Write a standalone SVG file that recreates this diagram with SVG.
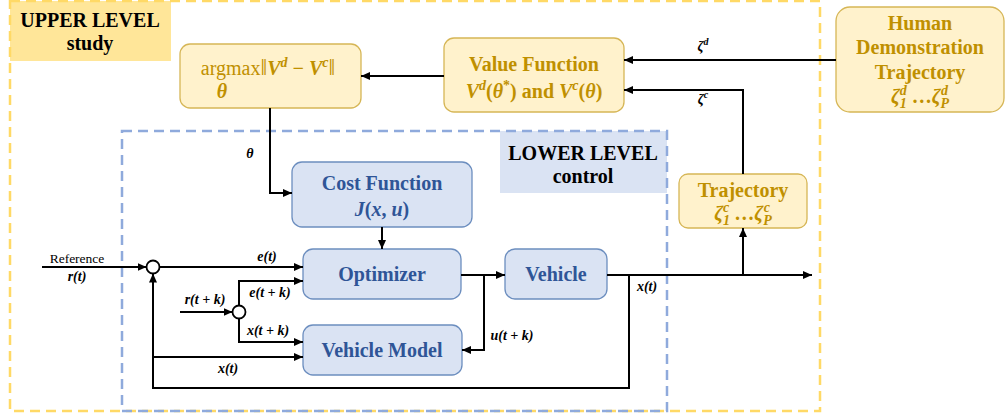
<svg xmlns="http://www.w3.org/2000/svg" width="1005" height="414" viewBox="0 0 1005 414">
<style>
text{font-family:"Liberation Serif","Tinos","DejaVu Serif","Times New Roman",serif}
.yb{fill:#FFF2CC;stroke:#D6B656;stroke-width:1.3}
.bb{fill:#DAE3F3;stroke:#6C8EBF;stroke-width:1.3}
.yt{font-weight:bold;fill:#BF9000;font-size:20px;text-anchor:middle}
.bt{font-weight:bold;fill:#2F5597;font-size:20px;text-anchor:middle}
.m{font-style:italic}
.lab{font-weight:bold;font-style:italic;font-size:14px;fill:#000;text-anchor:middle}
.hdr{font-weight:bold;font-size:20px;fill:#000;text-anchor:middle}
.c{fill:none;stroke:#000;stroke-width:2}
</style>
<defs>
<marker id="ah" markerUnits="userSpaceOnUse" markerWidth="9" markerHeight="8" refX="9" refY="4" orient="auto">
<path d="M0,0 L9,4 L0,8 z" fill="#000"/>
</marker>
</defs>
<g id="upper-label">
<rect x="10" y="1" width="161" height="60" fill="#FFE699"/>
<text class="hdr" x="90" y="27">UPPER LEVEL</text>
<text class="hdr" x="90" y="50">study</text>
</g>
<g id="lower-label">
<rect x="500" y="131" width="167" height="62" fill="#DAE3F3"/>
<text class="hdr" x="583" y="160">LOWER LEVEL</text>
<text class="hdr" x="583" y="183">control</text>
</g>
<g id="frames" fill="none" stroke-width="2.5" stroke-dasharray="10,6">
<rect x="10" y="1" width="810" height="410" stroke="#FFD966"/>
<rect x="122" y="131" width="545" height="280" stroke="#8FAADC"/>
</g>
<g id="argmax">
<rect class="yb" x="180" y="44" width="181" height="64" rx="10"/>
<text class="yt" x="268" y="75" font-size="21.5"><tspan font-weight="normal">argmax</tspan><tspan font-weight="normal" font-size="24">‖</tspan><tspan class="m">V</tspan><tspan class="m" font-size="14" dy="-8">d</tspan><tspan dy="8"> − </tspan><tspan class="m">V</tspan><tspan class="m" font-size="14" dy="-8">c</tspan><tspan dy="8" font-weight="normal" font-size="24">‖</tspan></text>
<text class="yt m" x="222" y="98" font-size="14">θ</text>
</g>
<g id="value-function">
<rect class="yb" x="444" y="38" width="180" height="74" rx="10"/>
<text class="yt" x="534" y="71">Value Function</text>
<text class="yt" x="534" y="98" font-size="21"><tspan class="m">V</tspan><tspan class="m" font-size="14" dy="-8">d</tspan><tspan dy="8">(</tspan><tspan class="m">θ</tspan><tspan font-size="14" dy="-8">*</tspan><tspan dy="8">) and </tspan><tspan class="m">V</tspan><tspan class="m" font-size="14" dy="-8">c</tspan><tspan dy="8">(</tspan><tspan class="m">θ</tspan><tspan>)</tspan></text>
</g>
<g id="human-demo">
<rect class="yb" x="836" y="7" width="168" height="105" rx="14"/>
<text class="yt" x="920" y="30">Human</text>
<text class="yt" x="920" y="54">Demonstration</text>
<text class="yt" x="920" y="79">Trajectory</text>
<text class="yt" x="920" y="103" font-size="21"><tspan class="m">ζ</tspan><tspan class="m" font-size="14" dy="5">1</tspan><tspan class="m" font-size="14" dx="-7" dy="-13">d</tspan><tspan dy="8"> …</tspan><tspan class="m">ζ</tspan><tspan class="m" font-size="14" dy="5">P</tspan><tspan class="m" font-size="14" dx="-8" dy="-13">d</tspan></text>
</g>
<g id="trajectory">
<rect class="yb" x="679" y="174" width="128" height="54" rx="9"/>
<text class="yt" x="743" y="197">Trajectory</text>
<text class="yt" x="743" y="220" font-size="21"><tspan class="m">ζ</tspan><tspan class="m" font-size="14" dy="5">1</tspan><tspan class="m" font-size="14" dx="-7" dy="-13">c</tspan><tspan dy="8"> …</tspan><tspan class="m">ζ</tspan><tspan class="m" font-size="14" dy="5">P</tspan><tspan class="m" font-size="14" dx="-8" dy="-13">c</tspan></text>
</g>
<g id="cost-function">
<rect class="bb" x="292" y="162" width="180" height="65" rx="10"/>
<text class="bt" x="382" y="190">Cost Function</text>
<text class="bt" x="382" y="216" font-size="21"><tspan class="m">J</tspan>(<tspan class="m">x</tspan>, <tspan class="m">u</tspan>)</text>
</g>
<g id="optimizer">
<rect class="bb" x="303" y="249" width="158" height="50" rx="10"/>
<text class="bt" x="382" y="281">Optimizer</text>
</g>
<g id="vehicle">
<rect class="bb" x="505" y="249" width="102" height="50" rx="10"/>
<text class="bt" x="556" y="281">Vehicle</text>
</g>
<g id="vehicle-model">
<rect class="bb" x="303" y="325" width="159" height="50" rx="10"/>
<text class="bt" x="382" y="357">Vehicle Model</text>
</g>
<g id="junction1"><circle cx="153" cy="267" r="6.5" fill="#fff" stroke="#000" stroke-width="1.8"/></g>
<g id="junction2"><circle cx="239" cy="312" r="6.5" fill="#fff" stroke="#000" stroke-width="1.8"/></g>
<g id="connectors">
<path class="c" d="M836,60 H624" marker-end="url(#ah)"/>
<path class="c" d="M743,174 V90 H624" marker-end="url(#ah)"/>
<path class="c" d="M444,76 H361" marker-end="url(#ah)"/>
<path class="c" d="M270,108 V193 H292" marker-end="url(#ah)"/>
<path class="c" d="M382,227 V249" marker-end="url(#ah)"/>
<path class="c" d="M42,267 H146.5" marker-end="url(#ah)"/>
<path class="c" d="M159.5,267 H303" marker-end="url(#ah)"/>
<path class="c" d="M180,312 H232.5" marker-end="url(#ah)"/>
<path class="c" d="M239,305.5 V281 H303" marker-end="url(#ah)"/>
<path class="c" d="M239,318.5 V342 H303" marker-end="url(#ah)"/>
<path class="c" d="M461,275 H505" marker-end="url(#ah)"/>
<path class="c" d="M484,275 V350 H462" marker-end="url(#ah)"/>
<path class="c" d="M607,275 H812" marker-end="url(#ah)"/>
<path class="c" d="M743,275 V228" marker-end="url(#ah)"/>
<path class="c" d="M629,275 V388 H153 V273.5" marker-end="url(#ah)"/>
<path class="c" d="M153,357 H303" marker-end="url(#ah)"/>
</g>
<g id="labels">
<text class="lab" x="703" y="51"><tspan>ζ</tspan><tspan font-size="10" dy="-6">d</tspan></text>
<text class="lab" x="703" y="104"><tspan>ζ</tspan><tspan font-size="10" dy="-6">c</tspan></text>
<text class="lab" x="250" y="158">θ</text>
<text x="77" y="263" font-size="13.5" text-anchor="middle">Reference</text>
<text class="lab" x="77" y="281">r(t)</text>
<text class="lab" x="267" y="261">e(t)</text>
<text class="lab" x="205" y="304">r(t + k)</text>
<text class="lab" x="270" y="297">e(t + k)</text>
<text class="lab" x="268" y="335">x(t + k)</text>
<text class="lab" x="228" y="373">x(t)</text>
<text class="lab" x="512" y="340">u(t + k)</text>
<text class="lab" x="647" y="291">x(t)</text>
</g>
</svg>
